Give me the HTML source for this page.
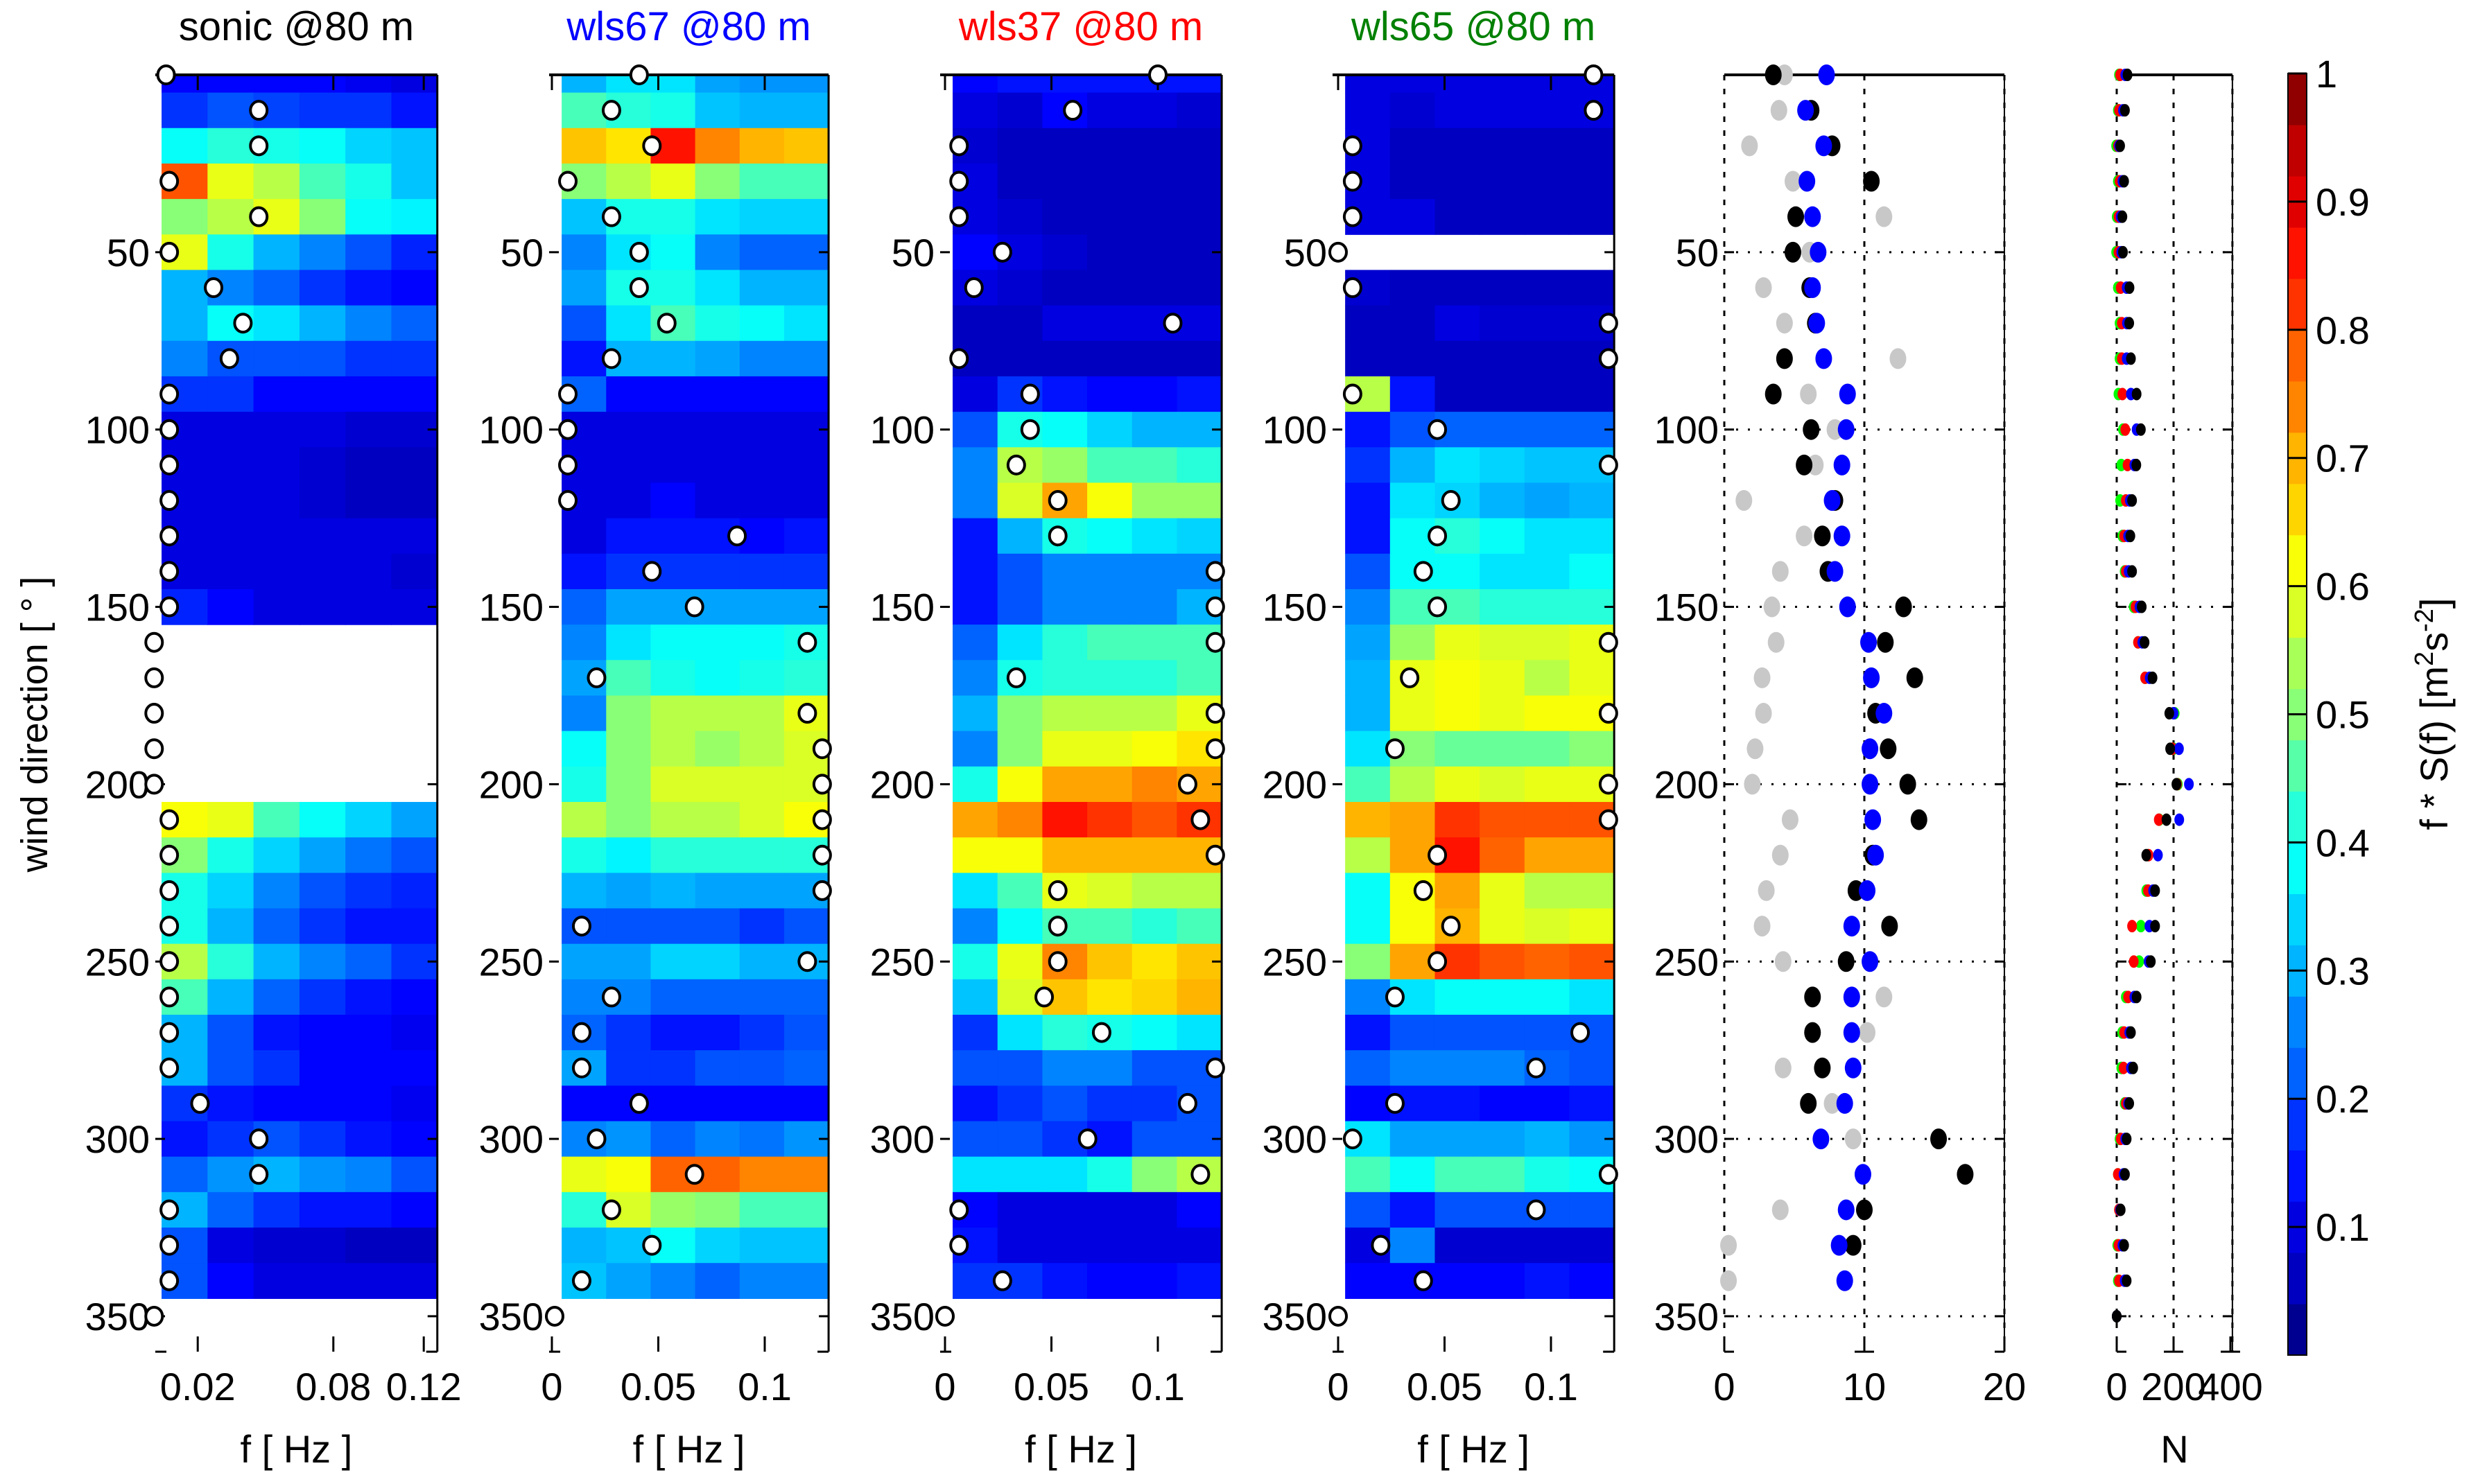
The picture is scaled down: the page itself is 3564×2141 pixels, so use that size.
<!DOCTYPE html>
<html><head><meta charset="utf-8"><style>
html,body{margin:0;padding:0;background:#fff;}
svg{display:block;font-family:"Liberation Sans",sans-serif;}
</style></head><body>
<svg id="fig" width="3564" height="2141" viewBox="0 0 3564 2141" xmlns="http://www.w3.org/2000/svg"></svg>
<script>
// ---------- DATA ----------
const dirTicks = [50,100,150,200,250,300,350];
// heatmap rows: direction bins 0..340 (step 10), 6 coarse frequency columns each; null = no data
const sonicSpec = [
[0.12,0.12,0.12,0.12,0.11,0.1],[0.17,0.2,0.19,0.17,0.17,0.14],[0.38,0.42,0.4,0.38,0.33,0.32],[0.8,0.6,0.55,0.45,0.4,0.32],
[0.5,0.55,0.6,0.5,0.38,0.36],[0.6,0.4,0.3,0.25,0.2,0.16],[0.3,0.25,0.22,0.17,0.15,0.12],[0.3,0.38,0.35,0.3,0.25,0.22],
[0.25,0.2,0.2,0.2,0.18,0.17],[0.17,0.17,0.13,0.13,0.13,0.13],[0.1,0.1,0.1,0.1,0.08,0.08],[0.1,0.1,0.1,0.08,0.07,0.07],
[0.1,0.1,0.1,0.08,0.07,0.07],[0.1,0.1,0.1,0.1,0.1,0.1],[0.1,0.1,0.1,0.1,0.1,0.08],[0.16,0.12,0.1,0.1,0.1,0.1],
null,null,null,null,null,
[0.62,0.6,0.45,0.38,0.33,0.28],[0.5,0.4,0.33,0.28,0.24,0.2],[0.4,0.33,0.25,0.2,0.17,0.16],[0.4,0.3,0.22,0.18,0.15,0.14],
[0.55,0.42,0.3,0.25,0.22,0.18],[0.45,0.3,0.22,0.18,0.15,0.13],[0.3,0.2,0.15,0.13,0.13,0.11],[0.3,0.2,0.17,0.13,0.13,0.13],
[0.17,0.14,0.13,0.13,0.12,0.11],[0.15,0.18,0.2,0.17,0.14,0.13],[0.22,0.27,0.3,0.27,0.25,0.2],[0.3,0.22,0.18,0.15,0.14,0.13],
[0.2,0.1,0.08,0.08,0.07,0.07],[0.2,0.12,0.1,0.1,0.1,0.1]];
const wls67Spec = [
[0.3,0.35,0.35,0.28,0.27,0.27],[0.45,0.42,0.4,0.32,0.3,0.3],[0.68,0.65,0.85,0.75,0.7,0.68],[0.5,0.55,0.6,0.5,0.45,0.45],
[0.32,0.4,0.4,0.35,0.33,0.33],[0.25,0.35,0.38,0.25,0.22,0.22],[0.28,0.4,0.4,0.35,0.3,0.3],[0.2,0.35,0.45,0.4,0.38,0.35],
[0.15,0.3,0.3,0.28,0.25,0.25],[0.22,0.13,0.13,0.13,0.13,0.13],[0.1,0.1,0.1,0.1,0.1,0.1],[0.1,0.1,0.1,0.1,0.1,0.1],
[0.1,0.1,0.13,0.1,0.1,0.1],[0.1,0.15,0.15,0.15,0.12,0.15],[0.15,0.17,0.17,0.17,0.17,0.17],[0.22,0.28,0.28,0.28,0.28,0.28],
[0.25,0.35,0.38,0.38,0.38,0.4],[0.28,0.45,0.4,0.38,0.4,0.42],[0.25,0.5,0.55,0.55,0.55,0.6],[0.38,0.5,0.55,0.52,0.55,0.58],
[0.4,0.5,0.58,0.58,0.58,0.58],[0.55,0.5,0.55,0.55,0.58,0.62],[0.4,0.37,0.42,0.42,0.42,0.42],[0.3,0.28,0.3,0.28,0.28,0.28],
[0.2,0.2,0.2,0.2,0.18,0.2],[0.28,0.28,0.33,0.33,0.3,0.3],[0.25,0.25,0.22,0.22,0.22,0.22],[0.22,0.17,0.15,0.15,0.17,0.2],
[0.28,0.18,0.17,0.2,0.2,0.22],[0.12,0.12,0.12,0.12,0.12,0.12],[0.25,0.27,0.22,0.25,0.24,0.27],[0.6,0.62,0.78,0.78,0.75,0.75],
[0.42,0.58,0.52,0.5,0.45,0.45],[0.3,0.32,0.38,0.33,0.32,0.32],[0.32,0.28,0.25,0.22,0.25,0.25]];
const wls37Spec = [
[0.12,0.15,0.15,0.15,0.15,0.15],[0.1,0.08,0.12,0.1,0.1,0.08],[0.08,0.06,0.06,0.06,0.06,0.06],[0.1,0.06,0.06,0.06,0.06,0.06],
[0.1,0.08,0.06,0.06,0.06,0.06],[0.13,0.1,0.08,0.06,0.06,0.06],[0.1,0.08,0.06,0.06,0.06,0.06],[0.06,0.06,0.1,0.1,0.1,0.1],
[0.06,0.06,0.06,0.06,0.06,0.06],[0.1,0.17,0.15,0.13,0.13,0.15],[0.2,0.4,0.38,0.33,0.3,0.3],[0.25,0.55,0.52,0.45,0.45,0.42],
[0.25,0.58,0.72,0.62,0.52,0.52],[0.15,0.3,0.4,0.38,0.35,0.33],[0.14,0.2,0.25,0.25,0.25,0.25],[0.15,0.2,0.25,0.25,0.25,0.3],
[0.22,0.35,0.42,0.45,0.45,0.45],[0.25,0.4,0.42,0.42,0.42,0.45],[0.3,0.5,0.55,0.55,0.55,0.6],[0.25,0.5,0.6,0.6,0.62,0.65],
[0.4,0.62,0.72,0.72,0.75,0.72],[0.72,0.75,0.85,0.82,0.8,0.82],[0.62,0.62,0.7,0.7,0.7,0.7],[0.35,0.45,0.6,0.58,0.55,0.55],
[0.25,0.38,0.45,0.45,0.42,0.45],[0.4,0.6,0.75,0.68,0.65,0.68],[0.32,0.58,0.68,0.65,0.67,0.7],[0.18,0.35,0.42,0.4,0.38,0.35],
[0.2,0.2,0.25,0.25,0.2,0.2],[0.15,0.18,0.2,0.18,0.17,0.2],[0.2,0.2,0.18,0.15,0.2,0.2],[0.35,0.35,0.35,0.4,0.5,0.55],
[0.12,0.1,0.1,0.1,0.1,0.12],[0.15,0.1,0.1,0.1,0.1,0.1],[0.18,0.17,0.15,0.12,0.13,0.15]];
const wls65Spec = [
[0.1,0.1,0.1,0.1,0.1,0.1],[0.1,0.08,0.1,0.1,0.1,0.1],[0.1,0.06,0.06,0.06,0.06,0.06],[0.1,0.06,0.06,0.06,0.06,0.06],
[0.1,0.1,0.06,0.06,0.06,0.06],null,[0.08,0.06,0.06,0.06,0.06,0.06],[0.06,0.06,0.1,0.08,0.08,0.08],
[0.06,0.06,0.06,0.06,0.06,0.06],[0.55,0.15,0.06,0.06,0.06,0.06],[0.15,0.2,0.22,0.22,0.22,0.22],[0.17,0.3,0.35,0.33,0.32,0.32],
[0.15,0.35,0.33,0.3,0.28,0.3],[0.15,0.38,0.42,0.38,0.35,0.35],[0.2,0.38,0.38,0.35,0.35,0.38],[0.25,0.45,0.45,0.42,0.42,0.42],
[0.28,0.52,0.6,0.58,0.58,0.6],[0.3,0.6,0.62,0.6,0.55,0.6],[0.3,0.6,0.62,0.6,0.62,0.62],[0.35,0.5,0.48,0.48,0.48,0.5],
[0.45,0.55,0.6,0.58,0.6,0.6],[0.7,0.72,0.82,0.8,0.8,0.8],[0.55,0.72,0.85,0.78,0.72,0.72],[0.38,0.62,0.72,0.6,0.55,0.55],
[0.38,0.62,0.7,0.6,0.58,0.6],[0.5,0.72,0.82,0.8,0.78,0.8],[0.25,0.35,0.38,0.38,0.38,0.35],[0.15,0.2,0.2,0.2,0.2,0.2],
[0.22,0.25,0.25,0.25,0.22,0.2],[0.13,0.15,0.15,0.12,0.12,0.15],[0.35,0.28,0.28,0.28,0.3,0.27],[0.45,0.38,0.45,0.45,0.4,0.38],
[0.2,0.15,0.2,0.2,0.2,0.2],[0.1,0.25,0.08,0.08,0.08,0.08],[0.12,0.12,0.13,0.13,0.15,0.13]];
// peak frequency per direction 0..350
const sonicPeak = [0.006,0.047,0.047,0.0074,0.047,0.0074,0.027,0.040,0.034,0.0074,0.0074,0.0074,0.0074,0.0074,0.0074,0.0074,0.0007,0.0007,0.0007,0.0007,0.0007,0.0074,0.0074,0.0074,0.0074,0.0074,0.0074,0.0074,0.0074,0.021,0.047,0.047,0.0074,0.0074,0.0074,0.0007];
const wls67Peak = [0.041,0.028,0.047,0.0075,0.028,0.041,0.041,0.054,0.028,0.0075,0.0075,0.0075,0.0075,0.087,0.047,0.067,0.12,0.021,0.12,0.127,0.127,0.127,0.127,0.127,0.014,0.12,0.028,0.014,0.014,0.041,0.021,0.067,0.028,0.047,0.014,0.0013];
const wls37Peak = [0.1,0.06,0.0066,0.0066,0.0066,0.027,0.0136,0.107,0.0066,0.04,0.04,0.0335,0.053,0.053,0.127,0.127,0.127,0.0335,0.127,0.127,0.114,0.12,0.127,0.053,0.053,0.053,0.0466,0.0736,0.127,0.114,0.067,0.12,0.0066,0.0066,0.027,0];
const wls65Peak = [0.12,0.12,0.0068,0.0068,0.0068,0,0.0068,0.127,0.127,0.0068,0.0466,0.127,0.053,0.0466,0.04,0.0466,0.127,0.0336,0.127,0.0267,0.127,0.127,0.0466,0.04,0.053,0.0466,0.0267,0.1137,0.093,0.0267,0.0068,0.127,0.093,0.02,0.04,0];
// panel 5 series (0..340)
const p5Gray  = [4.3,3.9,1.8,4.9,11.4,6.1,2.8,4.3,12.4,6.0,7.9,6.5,1.4,5.7,4.0,3.4,3.7,2.7,2.8,2.2,2.0,4.7,4.0,3.0,2.7,4.2,11.4,10.2,4.2,7.7,9.2,null,4.0,0.3,0.3];
const p5Black = [3.5,6.2,7.7,10.5,5.1,4.9,6.1,6.5,4.3,3.5,6.2,5.7,7.9,7.0,7.4,12.8,11.5,13.6,10.8,11.7,13.1,13.9,10.6,9.4,11.8,8.7,6.3,6.3,7.0,6.0,15.3,17.2,10.0,9.2,null];
const p5Blue  = [7.3,5.8,7.1,5.9,6.3,6.7,6.3,6.6,7.1,8.8,8.7,8.4,7.7,8.4,7.9,8.8,10.3,10.5,11.4,10.4,10.4,10.6,10.8,10.2,9.1,10.4,9.1,9.1,9.2,8.6,6.9,9.9,8.7,8.2,8.6];
// panel 6 (N) series (0..350)
const nGreen = [8,4,-2,4,0,-2,4,10,10,6,22,16,12,20,28,60,75,100,204,200,215,150,110,104,85,79,32,19,16,28,10,4,8,2,4,0];
const nRed   = [12,8,4,10,6,6,14,18,18,20,30,38,32,26,32,66,75,100,200,196,212,148,112,110,54,60,40,26,24,32,14,4,8,6,8,0];
const nBlue  = [30,22,8,20,14,16,35,36,35,50,70,62,46,40,42,80,90,116,200,219,254,220,145,128,115,112,62,44,50,40,30,24,12,20,28,0];
const nBlack = [38,29,12,26,20,22,45,44,50,70,85,69,54,48,54,88,98,126,185,188,210,175,104,135,135,120,70,50,58,44,35,29,14,26,35,0];
const cbTicks = [0.1,0.2,0.3,0.4,0.5,0.6,0.7,0.8,0.9,1];

// ---------- HELPERS ----------
const svg = document.getElementById('fig');
const NS = 'http://www.w3.org/2000/svg';
function mk(tag, attrs, parent){ const e=document.createElementNS(NS,tag); for(const k in attrs) e.setAttribute(k,attrs[k]); (parent||svg).appendChild(e); return e; }
function txt(str, attrs, parent){ const e=mk('text',attrs,parent); e.textContent=str; return e; }
const Y0=108, PXDEG=5.117;
function yOf(d){ return Y0 + d*PXDEG; }
const YBOT=yOf(360);
function jet(v){ v=Math.max(0,Math.min(1,v)); v=Math.round(v*63)/63;
  const c=x=>Math.round(255*Math.max(0,Math.min(1,x)));
  return `rgb(${c(1.5-Math.abs(4*v-3))},${c(1.5-Math.abs(4*v-2))},${c(1.5-Math.abs(4*v-1))})`; }
const FS=56;

function yAxisTicks(g, left, right, labels){
  dirTicks.forEach(d=>{
    const y=yOf(d);
    const t1=mk('line',{x1:left,y1:y,x2:left+14,y2:y,stroke:'#000','stroke-width':3},g);
     
    const t2=mk('line',{x1:right-14,y1:y,x2:right,y2:y,stroke:'#000','stroke-width':3},g);
     
    if(labels){
      const l=txt(String(d),{x:left-8,y:y+20,'font-size':FS,'text-anchor':'end'},g);
       
    }
  });
}

// ---------- HEATMAP PANELS ----------
const panels = [
 {name:'sonic',title:'sonic @80 m',color:'#000',spec:sonicSpec,peak:sonicPeak,x0:220,pxHz:3260,fLo:0.004,fHi:0.126,axL:224,ticks:[0.02,0.08,0.12],tl:['0.02','0.08','0.12']},
 {name:'wls67',title:'wls67 @80 m',color:'#0000ff',spec:wls67Spec,peak:wls67Peak,x0:796,pxHz:3070,fLo:0.0046,fHi:0.13,axL:792,ticks:[0,0.05,0.1],tl:['0','0.05','0.1']},
 {name:'wls37',title:'wls37 @80 m',color:'#ff0000',spec:wls37Spec,peak:wls37Peak,x0:1363,pxHz:3070,fLo:0.0036,fHi:0.13,axL:1356,ticks:[0,0.05,0.1],tl:['0','0.05','0.1']},
 {name:'wls65',title:'wls65 @80 m',color:'#008000',spec:wls65Spec,peak:wls65Peak,x0:1930,pxHz:3070,fLo:0.0033,fHi:0.1297,axL:1922,ticks:[0,0.05,0.1],tl:['0','0.05','0.1']}
];
panels.forEach(p=>{
  const g=mk('g',{});
   
  const xf=f=>p.x0+f*p.pxHz;
  const xL=xf(p.fLo), xR=xf(p.fHi);
  const ncol=6, cw=(p.fHi-p.fLo)/ncol;
  p.spec.forEach((row,k)=>{
    if(!row) return;
    const d0=Math.max(0,k*10-5), d1=k*10+5;
    row.forEach((v,j)=>{
      const a=xf(p.fLo+j*cw), b=xf(p.fLo+(j+1)*cw);
      const r=mk('rect',{x:a,y:yOf(d0),width:b-a+0.6,height:yOf(d1)-yOf(d0)+0.6,fill:jet(v)},g);
       
    });
  });
  // frame top & right
  const ft=mk('line',{x1:p.axL,y1:Y0,x2:xR,y2:Y0,stroke:'#000','stroke-width':4},g);
   
  const fr=mk('line',{x1:xR,y1:Y0,x2:xR,y2:YBOT,stroke:'#000','stroke-width':3},g);
   
  const bl=mk('line',{x1:p.axL,y1:YBOT,x2:p.axL+16,y2:YBOT,stroke:'#000','stroke-width':3},g);
   
  const br=mk('line',{x1:xR-16,y1:YBOT,x2:xR,y2:YBOT,stroke:'#000','stroke-width':3},g);
   
  yAxisTicks(g,p.axL,xR,true);
  p.ticks.forEach((f,i)=>{
    const x=xf(f);
    const a=mk('line',{x1:x,y1:Y0,x2:x,y2:Y0+22,stroke:'#000','stroke-width':3},g);
     
    const b=mk('line',{x1:x,y1:YBOT-22,x2:x,y2:YBOT,stroke:'#000','stroke-width':3},g);
     
    const l=txt(p.tl[i],{x:x,y:2020,'font-size':FS,'text-anchor':'middle'},g);
     
  });
  p.peak.forEach((f,k)=>{
    const c=mk('ellipse',{cx:xf(f),cy:yOf(k*10),rx:12,ry:13,fill:'#fff',stroke:'#000','stroke-width':4},g);
     
  });
  const t=txt(p.title,{x:(p.axL+xR)/2,y:58,'font-size':58,'text-anchor':'middle',fill:p.color},g);
   
  const xl=txt('f [ Hz ]',{x:(p.axL+xR)/2,y:2110,'font-size':FS,'text-anchor':'middle'},g);
   
});

// ---------- DOT PANELS ----------
function dotPanel(name, x0, pxU, xMaxU, xTicks, gridX, labels, series, rx, ry, xTitle){
  const g=mk('g',{});
   
  const xv=v=>x0+v*pxU;
  const xR=xv(xMaxU);
  dirTicks.forEach(d=>{
    const l=mk('line',{x1:x0,y1:yOf(d),x2:xR,y2:yOf(d),stroke:'#000','stroke-width':3,'stroke-dasharray':'3,14'},g);
     
  });
  [0].concat(gridX).concat([xMaxU]).forEach(v=>{
    const l=mk('line',{x1:xv(v),y1:Y0,x2:xv(v),y2:YBOT,stroke:'#000','stroke-width':3,'stroke-dasharray':'8,12'},g);
     
  });
  const ft=mk('line',{x1:x0,y1:Y0,x2:xR,y2:Y0,stroke:'#000','stroke-width':4},g);
   
  const fr=mk('line',{x1:xR,y1:Y0,x2:xR,y2:YBOT,stroke:'#000','stroke-width':2},g);
   
  yAxisTicks(g,x0,xR,labels);
  xTicks.forEach(v=>{
    const x=xv(v);
    const a=mk('line',{x1:x,y1:YBOT-22,x2:x,y2:YBOT,stroke:'#000','stroke-width':3},g);
     
    const b=mk('line',{x1:x-(v===0?0:14),y1:YBOT,x2:x+(v===xMaxU?0:14),y2:YBOT,stroke:'#000','stroke-width':3},g);
     
    const l=txt(String(v),{x:x,y:2020,'font-size':FS,'text-anchor':'middle'},g);
     
  });
  series.forEach(s=>{
    s.vals.forEach((v,k)=>{
      if(v===null) return;
      const e=mk('ellipse',{cx:xv(v),cy:yOf(k*10),rx:rx,ry:ry,fill:s.color},g);
       
    });
  });
  if(xTitle){
    const xl=txt(xTitle,{x:(x0+xR)/2,y:2110,'font-size':FS,'text-anchor':'middle'},g);
     
  }
}
dotPanel('statistic-panel',2487,20.2,20,[0,10,20],[10],true,
  [{name:'gray',color:'#c8c8c8',vals:p5Gray},{name:'black',color:'#000',vals:p5Black},{name:'blue',color:'#0000ff',vals:p5Blue}],12,15,null);
dotPanel('count-panel',3053,0.41,407,[0,200,400],[200],false,
  [{name:'green',color:'#00ff00',vals:nGreen},{name:'red',color:'#ff0000',vals:nRed},{name:'blue',color:'#0000ff',vals:nBlue},{name:'black',color:'#000',vals:nBlack}],7,9,'N');

// ---------- COLORBAR ----------
(function(){
  const g=mk('g',{});
   
  const cx0=3300, cx1=3327, cyTop=106, cyBot=1955;
  const cy=v=>cyBot-(cyBot-cyTop)*v;
  const n=25;
  for(let i=0;i<n;i++){
    const r=mk('rect',{x:cx0,y:cy((i+1)/n),width:cx1-cx0,height:cy(i/n)-cy((i+1)/n)+0.6,fill:jet((i+0.5)/n)},g);
     
  }
  const b=mk('rect',{x:cx0,y:cyTop,width:cx1-cx0,height:cyBot-cyTop,fill:'none',stroke:'#000','stroke-width':2},g);
   
  cbTicks.forEach(v=>{
    const l=mk('line',{x1:cx0,y1:cy(v),x2:cx1,y2:cy(v),stroke:'#000','stroke-width':3},g);
     
    const t=txt(String(v),{x:3340,y:cy(v)+20,'font-size':FS},g);
     
  });
  const lab=mk('text',{x:0,y:0,'font-size':FS,'text-anchor':'middle',transform:'translate(3530,1030) rotate(-90)'},g);
   
  lab.innerHTML='f * S(f) [m<tspan baseline-shift="super" font-size="38">2</tspan>s<tspan baseline-shift="super" font-size="38">-2</tspan>]';
})();
const yl=txt('wind direction [ ° ]',{x:0,y:0,'font-size':54,'text-anchor':'middle',transform:'translate(68,1045) rotate(-90)'});


</script>
</body></html>
